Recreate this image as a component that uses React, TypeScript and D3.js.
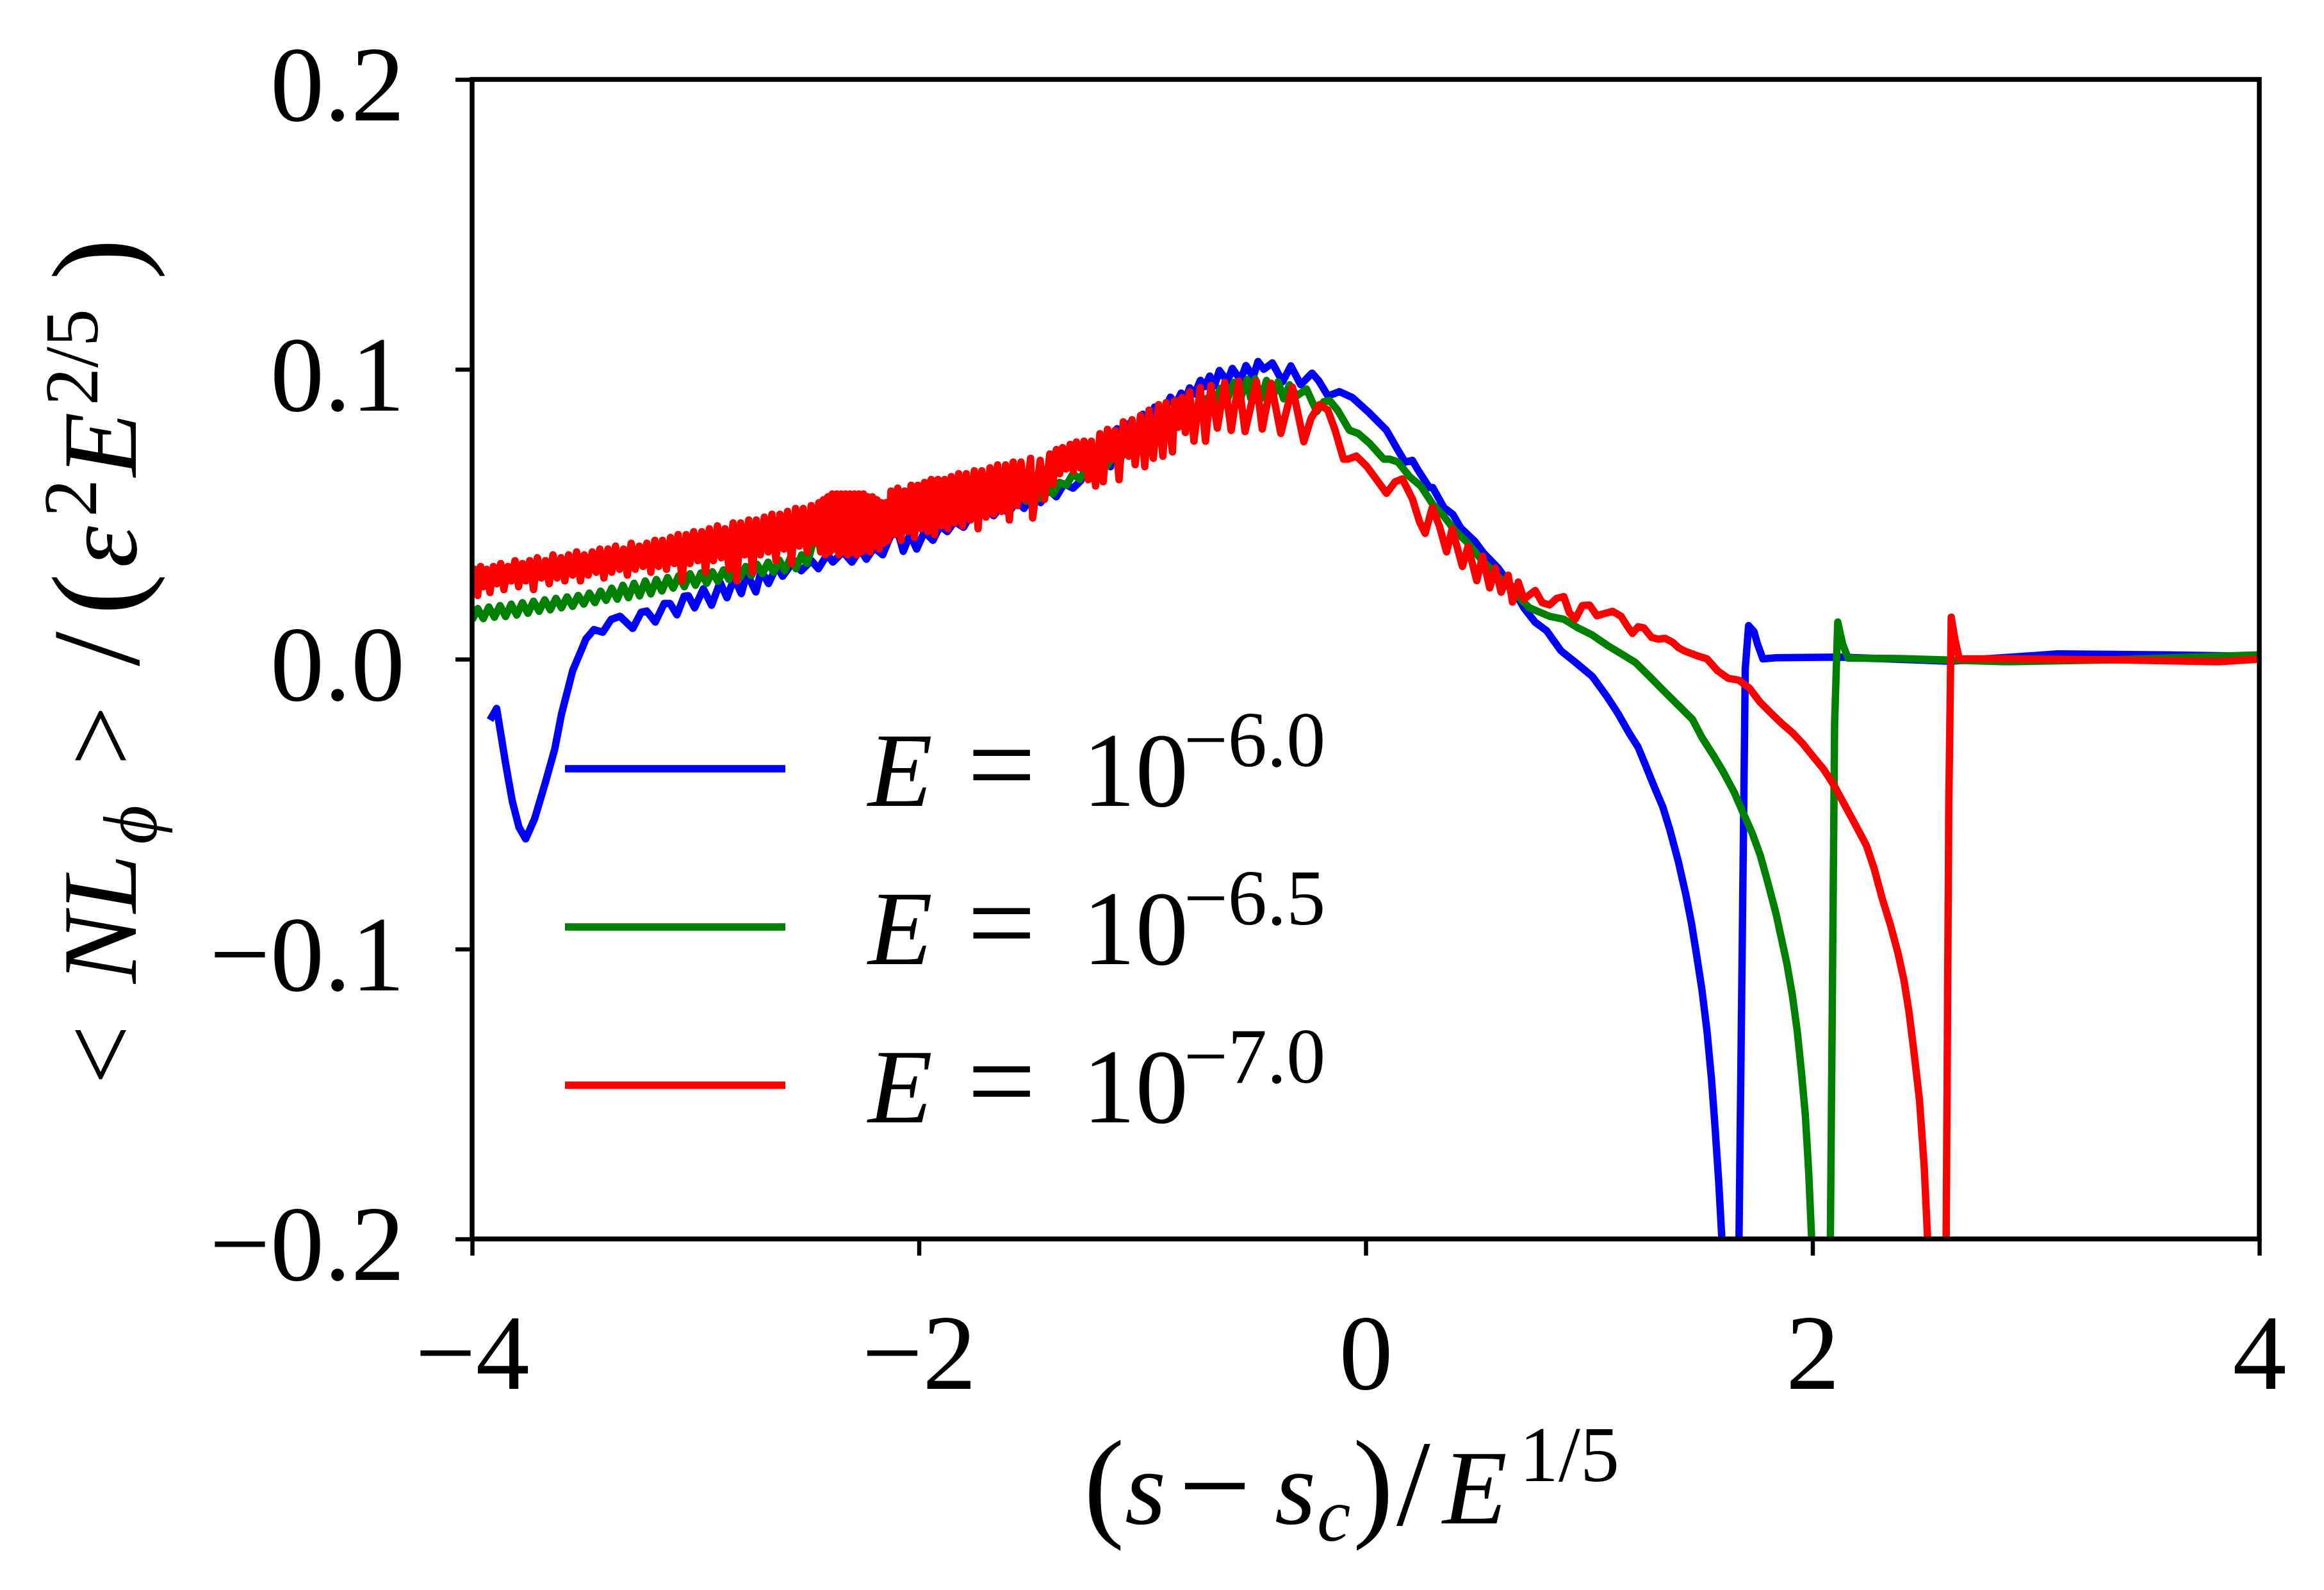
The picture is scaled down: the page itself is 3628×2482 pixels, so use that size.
import React, { useEffect, useRef } from 'react';
import * as d3 from 'd3';

type Pt = [number, number];

// E = 10^-6.0 (blue)
const seriesE60: Pt[] = [
  [-3.92, -0.021], [-3.89, -0.017], [-3.85, -0.036], [-3.82, -0.049], [-3.79, -0.058], [-3.76, -0.062],
  [-3.72, -0.055], [-3.67, -0.042], [-3.63, -0.031], [-3.60, -0.019], [-3.55, -0.004], [-3.49, 0.007],
  [-3.455, 0.0102], [-3.415, 0.0093], [-3.378, 0.0137], [-3.338, 0.0148], [-3.281, 0.0106], [-3.243, 0.0162],
  [-3.218, 0.0166], [-3.18, 0.0128], [-3.14, 0.0192], [-3.114, 0.0192], [-3.083, 0.0153], [-3.051, 0.0217],
  [-3.032, 0.0219], [-3.004, 0.0177], [-2.965, 0.0243], [-2.928, 0.0186], [-2.89, 0.0265], [-2.859, 0.0212],
  [-2.827, 0.0281], [-2.795, 0.0226], [-2.77, 0.0296], [-2.73, 0.0232], [-2.706, 0.0305], [-2.673, 0.0261],
  [-2.636, 0.0321], [-2.61, 0.0286], [-2.559, 0.034], [-2.527, 0.0305], [-2.481, 0.034], [-2.45, 0.0312],
  [-2.41, 0.0362], [-2.385, 0.0335], [-2.34, 0.037], [-2.30, 0.0335], [-2.262, 0.0378], [-2.235, 0.0345],
  [-2.20, 0.0385], [-2.162, 0.036], [-2.13, 0.042], [-2.098, 0.045], [-2.07, 0.0372], [-2.04, 0.043],
  [-2.01, 0.038], [-1.975, 0.044], [-1.937, 0.041], [-1.905, 0.046], [-1.873, 0.044], [-1.84, 0.0475],
  [-1.80, 0.0455], [-1.77, 0.0495], [-1.739, 0.0485], [-1.70, 0.0515], [-1.665, 0.0495], [-1.63, 0.053],
  [-1.60, 0.0505], [-1.56, 0.0545], [-1.53, 0.052], [-1.49, 0.0565], [-1.455, 0.054], [-1.42, 0.0585],
  [-1.385, 0.056], [-1.35, 0.0605], [-1.31, 0.059], [-1.276, 0.0615], [-1.24, 0.067], [-1.20, 0.063],
  [-1.17, 0.073], [-1.142, 0.0664], [-1.113, 0.0795], [-1.085, 0.072], [-1.055, 0.0815], [-1.027, 0.076],
  [-0.998, 0.0845], [-0.97, 0.08], [-0.945, 0.087], [-0.91, 0.084], [-0.874, 0.0904], [-0.85, 0.088],
  [-0.826, 0.0918], [-0.805, 0.09], [-0.788, 0.0936], [-0.765, 0.0915], [-0.74, 0.0962], [-0.72, 0.094],
  [-0.698, 0.0977], [-0.677, 0.0943], [-0.655, 0.0996], [-0.619, 0.0958], [-0.597, 0.1003], [-0.56, 0.0963],
  [-0.536, 0.1013], [-0.504, 0.0973], [-0.482, 0.1027], [-0.456, 0.1], [-0.418, 0.1022], [-0.372, 0.0957],
  [-0.335, 0.1012], [-0.291, 0.0947], [-0.24, 0.0987], [-0.21, 0.096], [-0.169, 0.0908], [-0.118, 0.0923],
  [-0.06, 0.0903], [0.017, 0.0849], [0.093, 0.079], [0.145, 0.072], [0.176, 0.068], [0.209, 0.0686],
  [0.236, 0.065], [0.285, 0.0592], [0.30, 0.0592], [0.35, 0.0523], [0.39, 0.05], [0.425, 0.0453],
  [0.49, 0.0405], [0.529, 0.0365], [0.592, 0.0315], [0.657, 0.0246], [0.708, 0.0177], [0.758, 0.0128],
  [0.81, 0.0098], [0.874, 0.0029], [0.939, -0.0011], [1.015, -0.006], [1.079, -0.0128], [1.13, -0.0188],
  [1.181, -0.0257], [1.219, -0.0303], [1.255, -0.037], [1.291, -0.0439], [1.33, -0.051], [1.362, -0.059],
  [1.40, -0.07], [1.433, -0.0812], [1.458, -0.091], [1.48, -0.1015], [1.505, -0.114], [1.528, -0.1285],
  [1.548, -0.145], [1.563, -0.1606], [1.58, -0.18], [1.594, -0.1996], [1.60, -0.23], [1.665, -0.23],
  [1.671, -0.2], [1.699, -0.0033], [1.714, 0.0116], [1.738, 0.0095], [1.754, 0.0052], [1.778, 0.0001],
  [1.837, 0.0005], [2.122, 0.0007], [2.621, -0.0007], [3.097, 0.0018], [3.575, 0.0015], [4.0, 0.001],
];

// E = 10^-6.5 (green)
const seriesE65: Pt[] = [
  [-4.0, 0.0135], [-3.975, 0.0175], [-3.95, 0.014], [-3.925, 0.018], [-3.9, 0.0145], [-3.875, 0.0185],
  [-3.85, 0.0147], [-3.825, 0.019], [-3.8, 0.0152], [-3.775, 0.0195], [-3.75, 0.0158], [-3.725, 0.02],
  [-3.7, 0.0165], [-3.675, 0.0205], [-3.65, 0.017], [-3.625, 0.021], [-3.6, 0.0177], [-3.575, 0.0215],
  [-3.55, 0.0182], [-3.525, 0.022], [-3.5, 0.019], [-3.475, 0.0228], [-3.45, 0.0195], [-3.425, 0.0235],
  [-3.4, 0.0203], [-3.375, 0.0245], [-3.35, 0.0207], [-3.325, 0.0255], [-3.3, 0.0212], [-3.275, 0.0262],
  [-3.25, 0.0218], [-3.225, 0.027], [-3.2, 0.0225], [-3.175, 0.0275], [-3.15, 0.0235], [-3.125, 0.0282],
  [-3.1, 0.0245], [-3.075, 0.0288], [-3.05, 0.025], [-3.025, 0.0295], [-3.0, 0.0255], [-2.975, 0.0298],
  [-2.95, 0.0262], [-2.925, 0.0302], [-2.9, 0.0268], [-2.875, 0.0308], [-2.85, 0.0275], [-2.825, 0.0315],
  [-2.8, 0.0282], [-2.775, 0.032], [-2.75, 0.0288], [-2.725, 0.0328], [-2.7, 0.0295], [-2.675, 0.0335],
  [-2.65, 0.03], [-2.625, 0.0342], [-2.6, 0.0305], [-2.575, 0.035], [-2.55, 0.0312], [-2.525, 0.036],
  [-2.5, 0.033], [-2.475, 0.04], [-2.46, 0.047], [-2.44, 0.037], [-2.42, 0.042], [-2.4, 0.038],
  [-2.375, 0.0425], [-2.35, 0.039], [-2.325, 0.043], [-2.3, 0.0395], [-2.275, 0.044], [-2.25, 0.04],
  [-2.225, 0.045], [-2.2, 0.041], [-2.175, 0.046], [-2.15, 0.042], [-2.125, 0.05], [-2.1, 0.044],
  [-2.075, 0.049], [-2.05, 0.045], [-2.025, 0.05], [-2.0, 0.046], [-1.97, 0.0505], [-1.94, 0.047],
  [-1.91, 0.0515], [-1.88, 0.048], [-1.85, 0.0525], [-1.82, 0.049], [-1.79, 0.0535], [-1.76, 0.05],
  [-1.73, 0.0545], [-1.7, 0.051], [-1.67, 0.0555], [-1.64, 0.052], [-1.61, 0.0565], [-1.58, 0.053],
  [-1.55, 0.0575], [-1.52, 0.0545], [-1.49, 0.0585], [-1.46, 0.0555], [-1.43, 0.0595], [-1.4, 0.057],
  [-1.37, 0.061], [-1.34, 0.06], [-1.31, 0.064], [-1.28, 0.062], [-1.25, 0.066], [-1.22, 0.0645],
  [-1.19, 0.068], [-1.16, 0.0665], [-1.13, 0.07], [-1.1, 0.069], [-1.07, 0.0725], [-1.04, 0.071],
  [-1.01, 0.075], [-0.98, 0.074], [-0.95, 0.078], [-0.92, 0.0765], [-0.89, 0.081], [-0.86, 0.0795],
  [-0.83, 0.084], [-0.8, 0.0825], [-0.77, 0.087], [-0.74, 0.085], [-0.71, 0.09], [-0.68, 0.0875],
  [-0.65, 0.0935], [-0.62, 0.0895], [-0.59, 0.0955], [-0.56, 0.09], [-0.53, 0.0965], [-0.515, 0.09],
  [-0.495, 0.0967], [-0.469, 0.0898], [-0.444, 0.0962], [-0.418, 0.0898], [-0.392, 0.0957], [-0.367, 0.0898],
  [-0.341, 0.0947], [-0.309, 0.0908], [-0.265, 0.0932], [-0.219, 0.0854], [-0.188, 0.0888], [-0.162, 0.0893],
  [-0.125, 0.0858], [-0.073, 0.079], [-0.034, 0.0779], [0.017, 0.0745], [0.081, 0.069], [0.107, 0.069],
  [0.145, 0.068], [0.196, 0.063], [0.247, 0.0597], [0.298, 0.0537], [0.35, 0.0493], [0.4, 0.0443],
  [0.452, 0.0405], [0.516, 0.0345], [0.58, 0.0296], [0.657, 0.0237], [0.733, 0.0177], [0.823, 0.0148],
  [0.887, 0.0138], [0.95, 0.0108], [1.015, 0.0083], [1.079, 0.0049], [1.143, 0.0019], [1.207, -0.0011],
  [1.271, -0.006], [1.335, -0.011], [1.399, -0.0159], [1.463, -0.0208], [1.505, -0.027], [1.555, -0.033],
  [1.6, -0.0388], [1.65, -0.046], [1.695, -0.054], [1.73, -0.06], [1.766, -0.0676], [1.80, -0.077],
  [1.837, -0.0879], [1.86, -0.096], [1.885, -0.1049], [1.91, -0.116], [1.932, -0.1285], [1.95, -0.142],
  [1.968, -0.1573], [1.983, -0.177], [1.996, -0.1996], [2.005, -0.23], [2.076, -0.23], [2.08, -0.2],
  [2.099, -0.0219], [2.113, 0.0128], [2.135, 0.0052], [2.159, 0.0004], [2.39, 0.0002], [2.867, -0.0009],
  [3.34, -0.0002], [4.0, 0.0015],
];

// E = 10^-7.0 (red)
const seriesE70: Pt[] = [
  [-4.0, 0.028], [-3.988, 0.031], [-3.975, 0.022], [-3.962, 0.032], [-3.95, 0.025], [-3.935, 0.031],
  [-3.92, 0.023], [-3.905, 0.032], [-3.89, 0.026], [-3.872, 0.033], [-3.858, 0.024], [-3.84, 0.032],
  [-3.825, 0.027], [-3.808, 0.034], [-3.792, 0.025], [-3.775, 0.033], [-3.76, 0.027], [-3.742, 0.034],
  [-3.725, 0.024], [-3.708, 0.035], [-3.69, 0.028], [-3.672, 0.034], [-3.655, 0.026], [-3.638, 0.036],
  [-3.62, 0.028], [-3.602, 0.035], [-3.585, 0.027], [-3.568, 0.036], [-3.55, 0.029], [-3.532, 0.037],
  [-3.515, 0.027], [-3.498, 0.036], [-3.48, 0.029], [-3.462, 0.037], [-3.445, 0.03], [-3.428, 0.038],
  [-3.41, 0.028], [-3.392, 0.038], [-3.375, 0.03], [-3.358, 0.039], [-3.34, 0.031], [-3.322, 0.038],
  [-3.305, 0.029], [-3.288, 0.04], [-3.27, 0.031], [-3.252, 0.039], [-3.235, 0.032], [-3.218, 0.04],
  [-3.2, 0.03], [-3.182, 0.041], [-3.165, 0.032], [-3.148, 0.041], [-3.13, 0.031], [-3.112, 0.042],
  [-3.095, 0.033], [-3.078, 0.043], [-3.06, 0.027], [-3.042, 0.043], [-3.025, 0.033], [-3.008, 0.044],
  [-2.99, 0.034], [-2.972, 0.044], [-2.955, 0.03], [-2.938, 0.045], [-2.92, 0.034], [-2.902, 0.046],
  [-2.885, 0.035], [-2.868, 0.045], [-2.85, 0.031], [-2.832, 0.047], [-2.815, 0.027], [-2.798, 0.047],
  [-2.78, 0.036], [-2.762, 0.048], [-2.745, 0.03], [-2.728, 0.048], [-2.71, 0.036], [-2.692, 0.049],
  [-2.675, 0.037], [-2.658, 0.05], [-2.64, 0.034], [-2.622, 0.05], [-2.605, 0.038], [-2.588, 0.051],
  [-2.57, 0.033], [-2.552, 0.052], [-2.535, 0.039], [-2.518, 0.052], [-2.5, 0.037], [-2.482, 0.053],
  [-2.465, 0.04], [-2.448, 0.054], [-2.438, 0.037], [-2.428, 0.055], [-2.418, 0.036], [-2.408, 0.056],
  [-2.398, 0.037], [-2.388, 0.057], [-2.378, 0.038], [-2.368, 0.057], [-2.358, 0.036], [-2.348, 0.057],
  [-2.338, 0.037], [-2.328, 0.057], [-2.318, 0.036], [-2.308, 0.057], [-2.298, 0.037], [-2.288, 0.057],
  [-2.278, 0.036], [-2.268, 0.057], [-2.258, 0.037], [-2.248, 0.057], [-2.238, 0.038], [-2.228, 0.056],
  [-2.218, 0.037], [-2.208, 0.056], [-2.198, 0.039], [-2.188, 0.055], [-2.178, 0.038], [-2.168, 0.054],
  [-2.158, 0.04], [-2.148, 0.054], [-2.138, 0.041], [-2.125, 0.058], [-2.11, 0.043], [-2.095, 0.059],
  [-2.08, 0.041], [-2.065, 0.058], [-2.05, 0.044], [-2.035, 0.06], [-2.02, 0.042], [-2.005, 0.06],
  [-1.99, 0.045], [-1.975, 0.061], [-1.96, 0.044], [-1.945, 0.062], [-1.93, 0.043], [-1.915, 0.062],
  [-1.9, 0.046], [-1.885, 0.062], [-1.87, 0.045], [-1.855, 0.063], [-1.84, 0.047], [-1.822, 0.064],
  [-1.805, 0.046], [-1.788, 0.064], [-1.77, 0.048], [-1.752, 0.065], [-1.735, 0.045], [-1.718, 0.065],
  [-1.7, 0.049], [-1.682, 0.066], [-1.665, 0.05], [-1.648, 0.067], [-1.63, 0.051], [-1.612, 0.067],
  [-1.595, 0.048], [-1.578, 0.068], [-1.56, 0.053], [-1.543, 0.068], [-1.525, 0.055], [-1.5, 0.0693],
  [-1.491, 0.0487], [-1.457, 0.0686], [-1.438, 0.0551], [-1.414, 0.0708], [-1.4, 0.0604], [-1.385, 0.0723],
  [-1.37, 0.064], [-1.357, 0.073], [-1.342, 0.0656], [-1.323, 0.0741], [-1.309, 0.0649], [-1.295, 0.0749],
  [-1.278, 0.066], [-1.261, 0.0752], [-1.242, 0.0619], [-1.228, 0.0752], [-1.209, 0.0597], [-1.19, 0.0778],
  [-1.175, 0.0612], [-1.156, 0.0793], [-1.14, 0.069], [-1.123, 0.0789], [-1.104, 0.0619], [-1.085, 0.0819],
  [-1.061, 0.07], [-1.046, 0.0826], [-1.032, 0.0671], [-1.008, 0.0841], [-0.989, 0.0664], [-0.97, 0.0859],
  [-0.951, 0.0693], [-0.927, 0.0878], [-0.908, 0.07], [-0.893, 0.0885], [-0.865, 0.0715], [-0.855, 0.0892],
  [-0.84, 0.08], [-0.822, 0.0903], [-0.807, 0.0782], [-0.788, 0.0922], [-0.769, 0.0752], [-0.741, 0.0937],
  [-0.717, 0.0752], [-0.693, 0.0944], [-0.664, 0.0797], [-0.631, 0.0955], [-0.602, 0.0789], [-0.569, 0.0959],
  [-0.54, 0.0785], [-0.489, 0.0958], [-0.463, 0.0794], [-0.424, 0.0952], [-0.38, 0.0779], [-0.328, 0.0938],
  [-0.277, 0.075], [-0.245, 0.083], [-0.208, 0.0878], [-0.17, 0.086], [-0.137, 0.079], [-0.099, 0.069],
  [-0.08, 0.069], [-0.042, 0.0701], [0.004, 0.0666], [0.056, 0.0612], [0.093, 0.0572], [0.132, 0.0612],
  [0.164, 0.0622], [0.209, 0.0553], [0.241, 0.0474], [0.266, 0.0434], [0.298, 0.0523], [0.33, 0.0459],
  [0.362, 0.037], [0.387, 0.0449], [0.433, 0.032], [0.458, 0.0389], [0.497, 0.0271], [0.523, 0.0355],
  [0.555, 0.0246], [0.58, 0.0315], [0.606, 0.0231], [0.638, 0.029], [0.657, 0.0197], [0.683, 0.0266],
  [0.708, 0.0207], [0.759, 0.0237], [0.79, 0.0195], [0.823, 0.0187], [0.855, 0.021], [0.887, 0.0216],
  [0.912, 0.016], [0.938, 0.0138], [0.97, 0.0185], [1.002, 0.0187], [1.035, 0.015], [1.066, 0.0157],
  [1.105, 0.0165], [1.143, 0.0148], [1.17, 0.0115], [1.194, 0.0089], [1.22, 0.0112], [1.245, 0.0108],
  [1.28, 0.0075], [1.309, 0.0069], [1.34, 0.0072], [1.373, 0.0059], [1.40, 0.004], [1.425, 0.0029],
  [1.476, 0.0014], [1.528, 0.0001], [1.575, -0.004], [1.623, -0.0066], [1.67, -0.0072], [1.718, -0.01],
  [1.765, -0.0148], [1.813, -0.0185], [1.86, -0.022], [1.908, -0.0252], [1.955, -0.029], [2.004, -0.0337],
  [2.05, -0.038], [2.099, -0.0439], [2.135, -0.049], [2.17, -0.054], [2.205, -0.059], [2.241, -0.0642],
  [2.275, -0.072], [2.313, -0.0828], [2.35, -0.092], [2.383, -0.1015], [2.41, -0.111], [2.432, -0.1217],
  [2.455, -0.136], [2.479, -0.1522], [2.50, -0.175], [2.515, -0.1996], [2.53, -0.23], [2.596, -0.23],
  [2.61, -0.0507], [2.621, 0.0145], [2.638, 0.0067], [2.657, 0.0001], [2.867, 0.0001], [3.34, -0.0002],
  [3.815, -0.0009], [4.0, 0.0],
];

const seriesList = [seriesE60, seriesE65, seriesE70];
const seriesColors = ['#0000ff', '#008000', '#ff0000'];
const legendExponents = ['\u22126.0', '\u22126.5', '\u22127.0'];
const xTicks = [-4, -2, 0, 2, 4];
const yTicks = [-0.2, -0.1, 0.0, 0.1, 0.2];

const W = 3628;
const H = 2482;
const FONT = "'Liberation Serif', 'DejaVu Serif', serif";
const LINE_W = 11.5;

const minus = (s: string) => s.replace('-', '\u2212');

const App: React.FC = () => {
  const svgRef = useRef<SVGSVGElement>(null);

  useEffect(() => {
    if (!svgRef.current) return;
    const svg = d3.select(svgRef.current);
    svg.selectAll('*').remove();

    const left = 737, right = 3527, top = 124, bottom = 1934;
    const x = d3.scaleLinear().domain([-4, 4]).range([left, right]);
    const y = d3.scaleLinear().domain([-0.2, 0.2]).range([bottom, top]);

    svg.append('rect').attr('width', W).attr('height', H).attr('fill', '#fff');

    svg.append('defs').append('clipPath').attr('id', 'plot-clip')
      .append('rect')
      .attr('x', left).attr('y', top)
      .attr('width', right - left).attr('height', bottom - top);

    // curves
    const line = d3.line<Pt>().x(d => x(d[0])).y(d => y(d[1]));
    const plot = svg.append('g').attr('clip-path', 'url(#plot-clip)');
    seriesList.forEach((s, i) => {
      plot.append('path')
        .attr('d', line(s) || '')
        .attr('fill', 'none')
        .attr('stroke', seriesColors[i])
        .attr('stroke-width', LINE_W)
        .attr('stroke-linejoin', 'round');
    });

    // axes
    const xAxis = svg.append('g')
      .attr('transform', `translate(0,${bottom})`)
      .call(
        d3.axisBottom(x).tickValues(xTicks).tickSize(26).tickPadding(89)
          .tickFormat(d => minus(String(d)))
      );
    const yAxis = svg.append('g')
      .attr('transform', `translate(${left},0)`)
      .call(
        d3.axisLeft(y).tickValues(yTicks).tickSize(26).tickPadding(79)
          .tickFormat(d => minus((+d).toFixed(1)))
      );
    [xAxis, yAxis].forEach(a => {
      a.select('.domain').remove();
      a.selectAll('line').attr('stroke', '#000').attr('stroke-width', 6.5);
      a.selectAll('text')
        .attr('font-family', FONT)
        .attr('font-size', 168)
        .attr('fill', '#000');
    });
    yAxis.selectAll('text').attr('dy', '0.38em');

    svg.append('rect')
      .attr('x', left).attr('y', top)
      .attr('width', right - left).attr('height', bottom - top)
      .attr('fill', 'none').attr('stroke', '#000').attr('stroke-width', 7.5);

    const piece = (
      g: d3.Selection<any, unknown, null, undefined>,
      txt: string, px: number, py: number, size: number, italic = false
    ) => g.append('text')
      .attr('x', px).attr('y', py)
      .attr('font-family', FONT)
      .attr('font-size', size)
      .attr('font-style', italic ? 'italic' : 'normal')
      .attr('fill', '#000')
      .text(txt);

    // x label: (s - s_c)/E^{1/5}
    const xl = svg.append('g');
    piece(xl, '(', 1692, 2380, 190);
    piece(xl, 's', 1756, 2378, 165, true);
    piece(xl, '\u2212', 1840, 2386, 200);
    piece(xl, 's', 1990, 2378, 165, true);
    piece(xl, 'c', 2056, 2405, 118, true);
    piece(xl, ')', 2112, 2380, 190);
    piece(xl, '/', 2180, 2380, 190);
    piece(xl, 'E', 2252, 2378, 165, true);
    piece(xl, '1/5', 2372, 2312, 122);

    // y label: <NL_phi> / (eps^2 E^{2/5}), rotated
    const yl = svg.append('g').attr('transform', 'translate(212,0) rotate(-90)');
    piece(yl, '<', -1693, 0, 165);
    piece(yl, 'NL', -1535, 0, 165, true);
    piece(yl, '\u03d5', -1318, 32, 118, true);
    piece(yl, '>', -1195, 0, 165);
    piece(yl, '/', -1040, 4, 195);
    piece(yl, '(', -960, 4, 195);
    piece(yl, '\u03b5', -886, 0, 165, true);
    piece(yl, '2', -807, -62, 118);
    piece(yl, 'E', -744, 0, 165, true);
    piece(yl, '2/5', -633, -60, 118);
    piece(yl, ')', -437, 4, 195);

    // legend
    const lg = svg.append('g');
    legendExponents.forEach((ex, i) => {
      const base = 1258 + i * 247;
      lg.append('line')
        .attr('x1', 882).attr('x2', 1226)
        .attr('y1', base - 58).attr('y2', base - 58)
        .attr('stroke', seriesColors[i]).attr('stroke-width', LINE_W);
      piece(lg, 'E', 1355, base, 165, true);
      piece(lg, '=', 1510, base, 190);
      piece(lg, '10', 1690, base, 165);
      piece(lg, ex, 1848, base - 62, 122);
    });
  }, []);

  return (
    <svg
      ref={svgRef}
      width={W}
      height={H}
      style={{ position: 'absolute', left: 0, top: 0, display: 'block' }}
    />
  );
};

export default App;
